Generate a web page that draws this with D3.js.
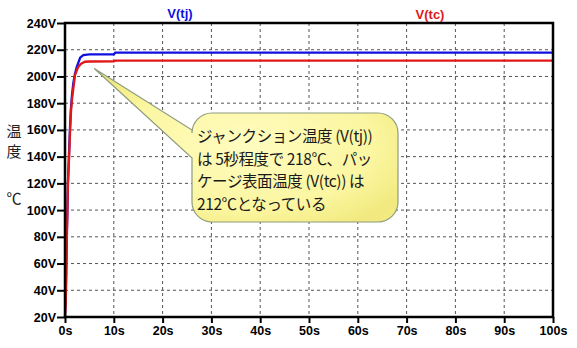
<!DOCTYPE html>
<html><head><meta charset="utf-8">
<script src="https://cdn.jsdelivr.net/npm/d3@7"></script>
<style>
html,body{margin:0;padding:0;background:#fff;}
svg{display:block;}
</style></head>
<body>
<svg id="c" width="577" height="348"></svg>
<script>
// ---- data ----
const xTicks = [0,10,20,30,40,50,60,70,80,90,100];
const yTicks = [20,40,60,80,100,120,140,160,180,200,220,240];
const seriesNames = ["V(tj)", "V(tc)"];
const tjTime = [0,0.15,0.3,0.4,0.5,0.6,0.8,1.0,1.2,1.4,1.7,2.05,2.4,2.7,3.1,3.75,5,10,10.3,100];
const tjVal  = [20,35,65,85,100,120,140,160,175,185,195,202,207,210,214,216,216.5,216.6,217.8,217.8];
const tcTime = [0,0.15,0.3,0.4,0.5,0.6,0.85,1.05,1.25,1.5,2.05,2.7,3.3,4.1,5,10,10.3,100];
const tcVal  = [20,30,60,85,100,120,140,160,175,185,201,207,209.5,211,211.2,211.3,211.8,211.8];
const yLabel = ["温","度","℃"];
const noteLines = ["ジャンクション温度 (V(tj))","は 5秒程度で 218℃、パッ","ケージ表面温度 (V(tc)) は","212℃となっている"];
const notePoint = [6, 206];

const svg = d3.select("#c");
const L=65, R=553, T=23, B=317;
const x = d3.scaleLinear().domain([0,100]).range([L,R]);
const y = d3.scaleLinear().domain([20,240]).range([B,T]);

// grid
const g = svg.append("g");
g.selectAll("line.vg").data(xTicks.slice(1,-1)).enter().append("line")
  .attr("x1",d=>x(d)).attr("x2",d=>x(d)).attr("y1",T).attr("y2",B)
  .attr("stroke","#555").attr("stroke-width",1).attr("stroke-dasharray","3,3");
g.selectAll("line.hg").data(yTicks.slice(1,-1)).enter().append("line")
  .attr("x1",L).attr("x2",R).attr("y1",d=>y(d)).attr("y2",d=>y(d))
  .attr("stroke","#555").attr("stroke-width",1).attr("stroke-dasharray","3,3");

// axes
const xAxis = d3.axisBottom(x).tickValues(xTicks).tickFormat(d=>d+"s").tickSize(6).tickSizeOuter(0);
const yAxis = d3.axisLeft(y).tickValues(yTicks).tickFormat(d=>d+"V").tickSize(8).tickSizeOuter(0);
const ax = svg.append("g").attr("transform",`translate(0,${B})`).call(xAxis);
const ay = svg.append("g").attr("transform",`translate(${L},0)`).call(yAxis);
[ax,ay].forEach(a=>{
  a.select(".domain").remove();
  a.selectAll(".tick line").attr("stroke","#000").attr("stroke-width",2);
  a.selectAll(".tick text").attr("fill","#000").style("font-family","Arial, 'Liberation Sans', sans-serif")
   .style("font-size","12.5px").style("font-weight","bold");
});
ax.selectAll(".tick text").attr("dy","0.71em").attr("y",9);
ay.selectAll(".tick text").attr("x",-9);

// lines
const line = d3.line().x(d=>x(d[0])).y(d=>y(d[1]));
const tj = tjTime.map((t,i)=>[t,tjVal[i]]);
const tc = tcTime.map((t,i)=>[t,tcVal[i]]);
svg.append("path").datum(tj).attr("d",line).attr("fill","none").attr("stroke","#1010e0").attr("stroke-width",2.3);
svg.append("path").datum(tc).attr("d",line).attr("fill","none").attr("stroke","#e01818").attr("stroke-width",2.3);

// frame
svg.append("rect").attr("x",L).attr("y",T).attr("width",R-L).attr("height",B-T)
  .attr("fill","none").attr("stroke","#000").attr("stroke-width",2.5);

// series titles
svg.append("text").attr("x",180).attr("y",18).attr("text-anchor","middle").text(seriesNames[0])
  .attr("fill","#1010e0").style("font-family","Arial, 'Liberation Sans', sans-serif").style("font-size","13px").style("font-weight","bold");
svg.append("text").attr("x",430).attr("y",19).attr("text-anchor","middle").text(seriesNames[1])
  .attr("fill","#e01818").style("font-family","Arial, 'Liberation Sans', sans-serif").style("font-size","13px").style("font-weight","bold");

// y label
const ylPos = [137,157,204];
yLabel.forEach((c,i)=>{
  svg.append("text").attr("x",14).attr("y",ylPos[i]).attr("text-anchor","middle").text(c)
   .attr("fill","#222").style("font-family","'Noto Sans CJK JP', sans-serif").style("font-size","15px");
});

// callout
const defs = svg.append("defs");
const rg = defs.append("radialGradient").attr("id","bub").attr("cx","50%").attr("cy","50%").attr("r","60%");
rg.append("stop").attr("offset","0%").attr("stop-color","#fffcc0");
rg.append("stop").attr("offset","70%").attr("stop-color","#fbf6a0");
rg.append("stop").attr("offset","100%").attr("stop-color","#f2ea80");
const x0=192,y0=113,x1=398,y1=222,r=20;
const tx=x(notePoint[0]), ty=y(notePoint[1]);
const p = `M${x0+r},${y0} H${x1-r} A${r},${r} 0 0 1 ${x1},${y0+r} V${y1-r} A${r},${r} 0 0 1 ${x1-r},${y1} H${x0+r} A${r},${r} 0 0 1 ${x0},${y1-r} V158 L${tx},${ty} L${x0},130 V${y0+r} A${r},${r} 0 0 1 ${x0+r},${y0} Z`;
svg.append("path").attr("d",p).attr("fill","url(#bub)").attr("stroke","#8e9c80").attr("stroke-width",1.2);
noteLines.forEach((s,i)=>{
  svg.append("text").attr("x",197).attr("y",142+i*22.5).text(s)
   .attr("fill","#1a1a1a").style("font-family","'Noto Sans CJK JP', sans-serif").style("font-size","15.5px")
   .style("letter-spacing","-0.4px");
});
</script>
</body></html>
